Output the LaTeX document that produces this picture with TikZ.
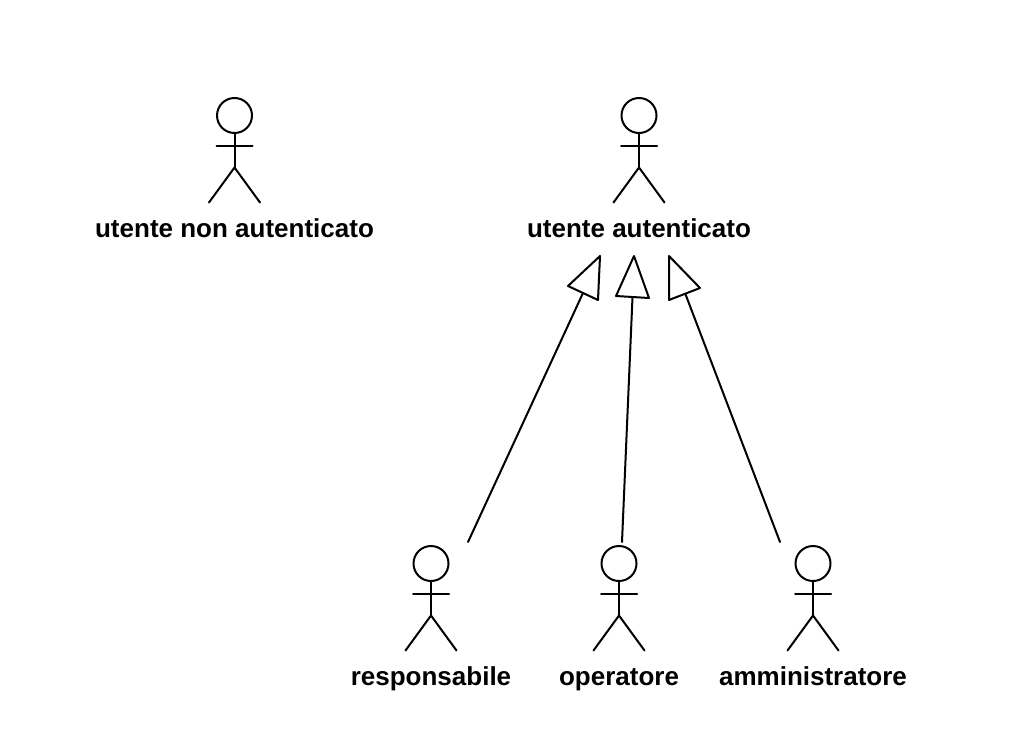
\documentclass[tikz,border=0pt]{standalone}
\usepackage{fontspec}
\setmainfont{Liberation Sans}
\begin{document}
\begin{tikzpicture}[x=1pt,y=-1pt,
  stroke/.style={draw=black,line width=2pt,line cap=round,line join=round},
  lbl/.style={font=\bfseries\fontsize{26}{30}\selectfont,inner sep=0pt,anchor=base},
  tri/.style={stroke,fill=white}]
\useasboundingbox[fill=white] (0,0) rectangle (1024,736);
\newcommand{\actor}[2]{%
  \draw[stroke] (#1,#2) circle (17.5);
  \draw[stroke] (#1,#2+17.5) -- (#1,#2+52);
  \draw[stroke] (#1-18,#2+30) -- (#1+18,#2+30);
  \draw[stroke] (#1-25.5,#2+87) -- (#1,#2+52) -- (#1+25.5,#2+87);
}
\actor{234.5}{115.5}
\actor{639}{115.5}
\actor{431}{563.5}
\actor{619}{563.5}
\actor{813}{563.5}
\node[lbl] (una) at (234.5,237) {utente non autenticato};
\node[lbl] (ua) at (639,237) {utente autenticato};
\node[lbl] (resp) at (431,685) {responsabile};
\node[lbl] (oper) at (619,685) {operatore};
\node[lbl] (admin) at (813,685) {amministratore};
\coordinate (r0) at (468,542);
\coordinate (r1) at (583,293);
\coordinate (o0) at (622,542);
\coordinate (o1) at (632.5,297);
\coordinate (a0) at (780,542);
\coordinate (a1) at (685,293);
\draw[stroke] (r0) -- (r1);
\draw[stroke] (o0) -- (o1);
\draw[stroke] (a0) -- (a1);
\draw[tri] (600,256) -- (568,286) -- (598,300) -- cycle;
\draw[tri] (634,256) -- (616,296) -- (649,298) -- cycle;
\draw[tri] (669,256) -- (669,300) -- (700,288) -- cycle;
\end{tikzpicture}
\end{document}
